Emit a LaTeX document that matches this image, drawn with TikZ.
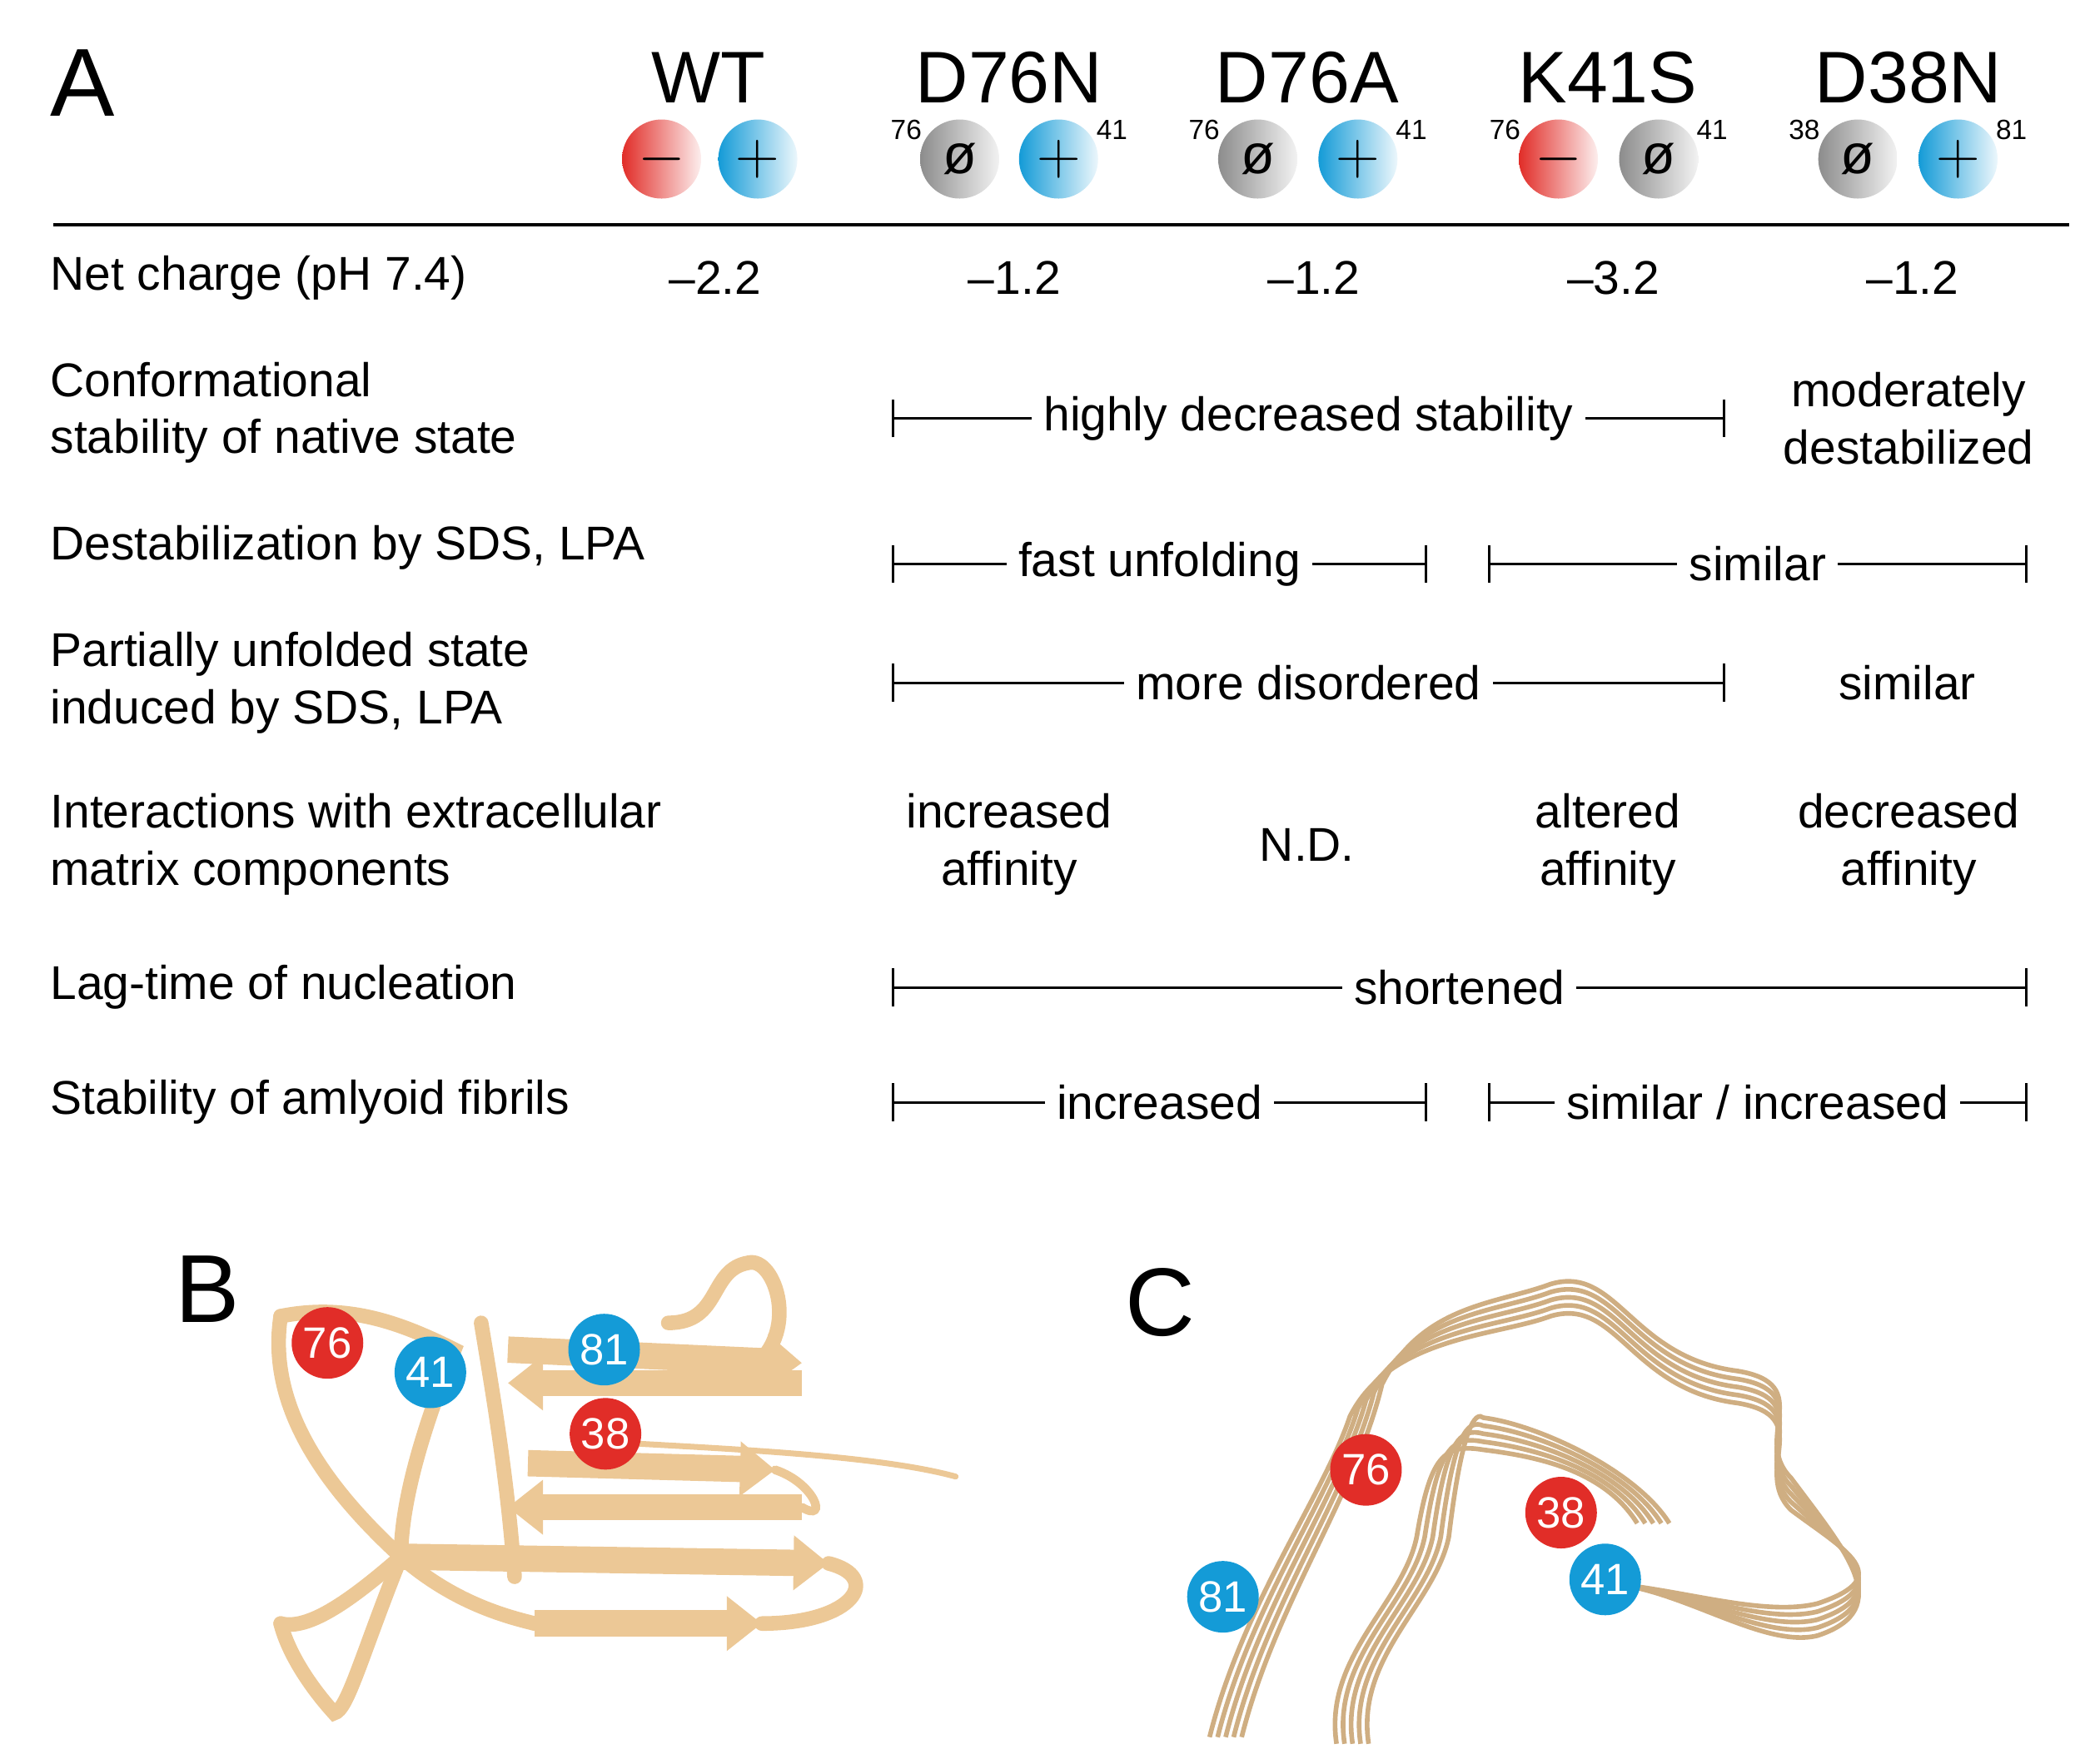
\documentclass[tikz,border=0pt]{standalone}
\usepackage{fontspec}
\setmainfont{Liberation Sans}
\usetikzlibrary{arrows.meta}
\definecolor{tan}{RGB}{236,200,150}
\definecolor{tandark}{RGB}{90,70,50}
\definecolor{pred}{RGB}{225,45,40}
\definecolor{pblue}{RGB}{20,155,215}
\tikzset{
  hdr/.style={font=\fontsize{25}{28}\selectfont},
  txt/.style={font=\fontsize{16.2}{19.5}\selectfont, align=left, anchor=west},
  val/.style={font=\fontsize{16.2}{19.5}\selectfont, align=center},
  num/.style={font=\fontsize{9.5}{12}\selectfont},
  chneg/.style={circle, minimum size=0.95cm, left color=pred, right color=pred!8, font=\fontsize{21}{22}\selectfont, inner sep=0pt},
  chpos/.style={circle, minimum size=0.95cm, left color=pblue, right color=pblue!8, font=\fontsize{21}{22}\selectfont, inner sep=0pt},
  chneu/.style={circle, minimum size=0.95cm, left color=black!45, right color=black!5, font=\fontsize{19}{22}\selectfont, inner sep=0pt},
  rng/.style={{Bar[width=13pt]}-{Bar[width=13pt]}, line width=0.9pt},
  lab/.style={fill=white, inner xsep=4pt, font=\fontsize{16.2}{19.5}\selectfont},
  res/.style={circle, minimum size=0.86cm, inner sep=0pt, text=white, font=\fontsize{15}{16}\selectfont},
  rib/.style={tan, line width=5pt, line cap=round},
  strand/.style={tan, line width=9pt, -{Triangle[width=18pt,length=12pt]}},
}
\begin{document}
\begin{tikzpicture}[x=0.01605cm,y=-0.01605cm]
\useasboundingbox (0,0) rectangle (1560,1320);
% panel A header
\node[font=\fontsize{33}{36}\selectfont] (la) at (62,62) {A};
\node[hdr] (wt) at (530,58) {WT};
\node[hdr] (d76n) at (755,58) {D76N};
\node[hdr] (d76a) at (978,58) {D76A};
\node[hdr] (k41s) at (1203,58) {K41S};
\node[hdr] (d38n) at (1428,58) {D38N};
% charge circles
\node[chneg] (c1) at (495,119) {$-$};
\node[chpos] (c2) at (567,119) {$+$};
\node[chneu] (c3) at (718,119) {\o};
\node[chpos] (c4) at (792,119) {$+$};
\node[chneu] (c5) at (941,119) {\o};
\node[chpos] (c6) at (1016,119) {$+$};
\node[chneg] (c7) at (1166,119) {$-$};
\node[chneu] (c8) at (1241,119) {\o};
\node[chneu] (c9) at (1390,119) {\o};
\node[chpos] (c10) at (1465,119) {$+$};
\node[num] (n1) at (678,97) {76};
\node[num] (n2) at (832,97) {41};
\node[num] (n3) at (901,97) {76};
\node[num] (n4) at (1056,97) {41};
\node[num] (n5) at (1126,97) {76};
\node[num] (n6) at (1281,97) {41};
\node[num] (n7) at (1350,97) {38};
\node[num] (n8) at (1505,97) {81};
\coordinate (hl) at (40,168);
\coordinate (hr) at (1548,168);
\draw[line width=1.2pt] (hl) -- (hr);
% row labels
\node[txt] (r1) at (30,208) {Net charge (pH 7.4)};
\node[txt] (r2) at (30,309) {Conformational\\stability of native state};
\node[txt] (r3) at (30,410) {Destabilization by SDS, LPA};
\node[txt] (r4) at (30,511) {Partially unfolded state\\induced by SDS, LPA};
\node[txt] (r5) at (30,632) {Interactions with extracellular\\matrix components};
\node[txt] (r6) at (30,739) {Lag-time of nucleation};
\node[txt] (r7) at (30,825) {Stability of amlyoid fibrils};
% values
\node[val] (v1) at (535,208) {–2.2};
\node[val] (v2) at (759,208) {–1.2};
\node[val] (v3) at (983,208) {–1.2};
\node[val] (v4) at (1207,208) {–3.2};
\node[val] (v5) at (1431,208) {–1.2};
\node[val] (m1) at (1428,313) {moderately\\destabilized};
\node[val] (m2) at (1427,511) {similar};
\node[val] (i1) at (755,632) {increased\\affinity};
\node[val] (i2) at (978,632) {N.D.};
\node[val] (i3) at (1203,632) {altered\\affinity};
\node[val] (i4) at (1428,632) {decreased\\affinity};
% ranges
\coordinate (a1) at (667,313); \coordinate (b1) at (1291,313);
\draw[rng] (a1) -- node[lab] {highly decreased stability} (b1);
\coordinate (a2) at (667,422); \coordinate (b2) at (1068,422);
\draw[rng] (a2) -- node[lab] {fast unfolding} (b2);
\coordinate (a3) at (1113,422); \coordinate (b3) at (1517,422);
\draw[rng] (a3) -- node[lab] {similar} (b3);
\coordinate (a4) at (667,511); \coordinate (b4) at (1291,511);
\draw[rng] (a4) -- node[lab] {more disordered} (b4);
\coordinate (a5) at (667,739); \coordinate (b5) at (1517,739);
\draw[rng] (a5) -- node[lab] {shortened} (b5);
\coordinate (a6) at (667,825); \coordinate (b6) at (1068,825);
\draw[rng] (a6) -- node[lab] {increased} (b6);
\coordinate (a7) at (1113,825); \coordinate (b7) at (1517,825);
\draw[rng] (a7) -- node[lab] {similar / increased} (b7);
% panel B
\node[font=\fontsize{33}{36}\selectfont] (lb) at (155,965) {B};
\draw[rib] (210,985) .. controls (260,975) and (300,990) .. (340,1010)
  .. controls (320,1060) and (300,1120) .. (300,1165)
  .. controls (260,1200) and (230,1220) .. (210,1215);
\draw[rib] (210,985) .. controls (200,1050) and (240,1110) .. (300,1165)
  .. controls (340,1200) and (380,1210) .. (400,1215);
\draw[rib] (300,1165) .. controls (270,1240) and (260,1280) .. (250,1282)
  .. controls (230,1260) and (215,1235) .. (210,1215);
\draw[rib] (360,990) .. controls (370,1050) and (380,1110) .. (385,1180);
\draw[strand] (600,1035) -- (380,1035);
\draw[strand] (380,1010) -- (600,1020);
\draw[strand] (395,1095) -- (580,1100);
\draw[strand] (600,1128) -- (380,1128);
\draw[strand] (300,1165) -- (620,1170);
\draw[strand] (400,1215) -- (570,1215);
\draw[rib] (560,1025) .. controls (600,1000) and (580,940) .. (560,945)
  .. controls (530,950) and (540,990) .. (500,990);
\draw[rib] (570,1215) .. controls (640,1215) and (660,1180) .. (620,1170);
\draw[rib, line width=2pt] (470,1080) .. controls (560,1085) and (660,1090) .. (715,1105);
\draw[rib, line width=3pt] (580,1100) .. controls (610,1110) and (620,1140) .. (600,1128);
\node[res, fill=pred] (b76) at (245,1005) {76};
\node[res, fill=pblue] (b41) at (322,1027) {41};
\node[res, fill=pblue] (b81) at (452,1010) {81};
\node[res, fill=pred] (b38) at (453,1073) {38};
% panel C
\node[font=\fontsize{33}{36}\selectfont] (lc) at (868,975) {C};
\foreach \d in {0,6,12,18,24} {
  \draw[tan!80!tandark, line width=1.6pt]
    (905+\d,1300) .. controls (930+\d,1200) and (990+\d,1120) .. (1010+\d,1060-\d)
    .. controls (1040+\d,1000-\d) and (1120,1000-\d) .. (1160,985-\d)
    .. controls (1210,970-\d) and (1220,1040-\d) .. (1300,1050-\d)
    .. controls (1360,1060-\d) and (1310,1100-\d) .. (1340,1130-\d)
    .. controls (1380,1160) and (1420,1180+\d) .. (1360,1200+\d)
    .. controls (1320,1210+\d) and (1260,1190) .. (1205,1185);
  \draw[tan!80!tandark, line width=1.6pt]
    (1000+\d,1305) .. controls (990+\d,1240) and (1050+\d,1200) .. (1060+\d,1150)
    .. controls (1070+\d,1090-\d) and (1080+\d,1080-\d) .. (1110,1085-\d)
    .. controls (1150,1090-\d) and (1200+\d,1100) .. (1225+\d,1140);
}
\node[res, fill=pred] (c76) at (1022,1100) {76};
\node[res, fill=pred] (c38) at (1168,1132) {38};
\node[res, fill=pblue] (c41) at (1201,1182) {41};
\node[res, fill=pblue] (c81) at (915,1195) {81};
\end{tikzpicture}
\end{document}
